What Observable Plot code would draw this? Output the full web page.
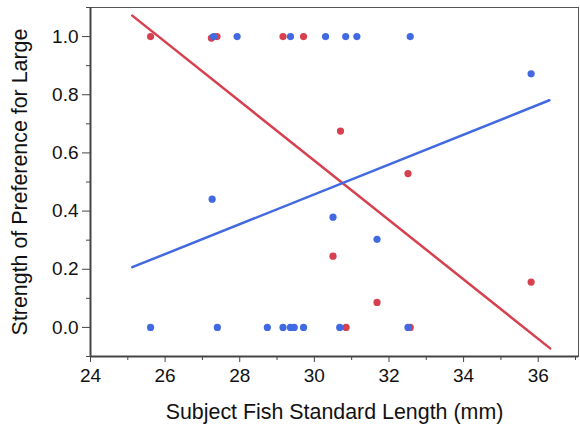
<!DOCTYPE html>
<html>
<head>
<meta charset="utf-8">
<script src="https://cdn.jsdelivr.net/npm/d3@7"></script>
<script src="https://cdn.jsdelivr.net/npm/@observablehq/plot@0.6"></script>
<style>
  html, body { margin: 0; padding: 0; background: #fff; }
  #chart svg { display: block; }
  #chart g[aria-label$="tick label"] text { font-size: 19px !important; }
  #chart g[aria-label="x-axis label"] text,
  #chart g[aria-label="y-axis label"] text { font-size: 21.4px !important; }
</style>
</head>
<body>
<div id="chart"></div>
<script>
// Blue series (points)
const blueX = [27.30, 27.93, 29.36, 30.30, 30.84, 31.14, 32.57, 35.81,
               27.26, 30.50, 31.68,
               25.61, 27.40, 28.74, 29.16, 29.36, 29.46, 29.71, 30.68, 32.51];
const blueY = [1, 1, 1, 1, 1, 1, 1, 0.872,
               0.441, 0.379, 0.303,
               0, 0, 0, 0, 0, 0, 0, 0, 0];
// Red series (points)
const redX = [25.61, 27.24, 27.39, 29.16, 29.71,
              30.70, 32.51, 30.50, 35.81, 31.68,
              30.85, 32.57];
const redY = [1, 0.995, 1, 1, 1,
              0.675, 0.529, 0.245, 0.156, 0.086,
              0, 0];
// Fitted lines (end points)
const blueLineX = [25.12, 36.30];
const blueLineY = [0.207, 0.781];
const redLineX = [25.12, 36.32];
const redLineY = [1.072, -0.072];

const xTicks = [24, 26, 28, 30, 32, 34, 36];
const xMinor = [25, 27, 29, 31, 33, 35, 37];
const yTicks = [0, 0.2, 0.4, 0.6, 0.8, 1.0];
const yMinor = [-0.1, 0.1, 0.3, 0.5, 0.7, 0.9, 1.1];

const BLUE = "#4169e1";
const RED = "#d6404f";

const pts = (xs, ys) => xs.map((x, i) => ({x, y: ys[i]}));

const chart = Plot.plot({
  width: 580,
  height: 426,
  marginLeft: 90,
  marginRight: 2,
  marginTop: 7,
  marginBottom: 70,
  style: {fontFamily: "'Liberation Sans', Arial, sans-serif", fontSize: "19px", color: "#111", background: "#fff"},
  x: {domain: [24, 37.08], label: null},
  y: {domain: [-0.1, 1.1], label: null},
  marks: [
    Plot.frame({stroke: "#555", strokeWidth: 1}),
    Plot.axisX({ticks: xMinor, tickSize: 4, tickFormat: () => "", stroke: "#444"}),
    Plot.axisX({ticks: xTicks, tickSize: 6, tickPadding: 6, tickFormat: d => String(d), stroke: "#444", fill: "#111",
      label: "Subject Fish Standard Length (mm)", labelAnchor: "center", labelOffset: 62, labelArrow: "none"}),
    Plot.axisY({ticks: yMinor, tickSize: 4, tickFormat: () => "", stroke: "#444"}),
    Plot.axisY({ticks: yTicks, tickSize: 8, tickPadding: 4, tickFormat: d3.format(".1f"), stroke: "#444", fill: "#111",
      label: "Strength of Preference for Large", labelAnchor: "center", labelOffset: 79, labelArrow: "none"}),
    Plot.ruleX([24], {stroke: "#444", strokeWidth: 2}),
    Plot.ruleY([-0.1], {stroke: "#444", strokeWidth: 2}),
    Plot.line(pts(redLineX, redLineY), {x: "x", y: "y", stroke: RED, strokeWidth: 2.5}),
    Plot.line(pts(blueLineX, blueLineY), {x: "x", y: "y", stroke: BLUE, strokeWidth: 2.5}),
    Plot.dot(pts(redX, redY), {x: "x", y: "y", r: 3.6, fill: RED}),
    Plot.dot(pts(blueX, blueY), {x: "x", y: "y", r: 3.6, fill: BLUE})
  ]
});
document.getElementById("chart").appendChild(chart);
</script>
</body>
</html>
